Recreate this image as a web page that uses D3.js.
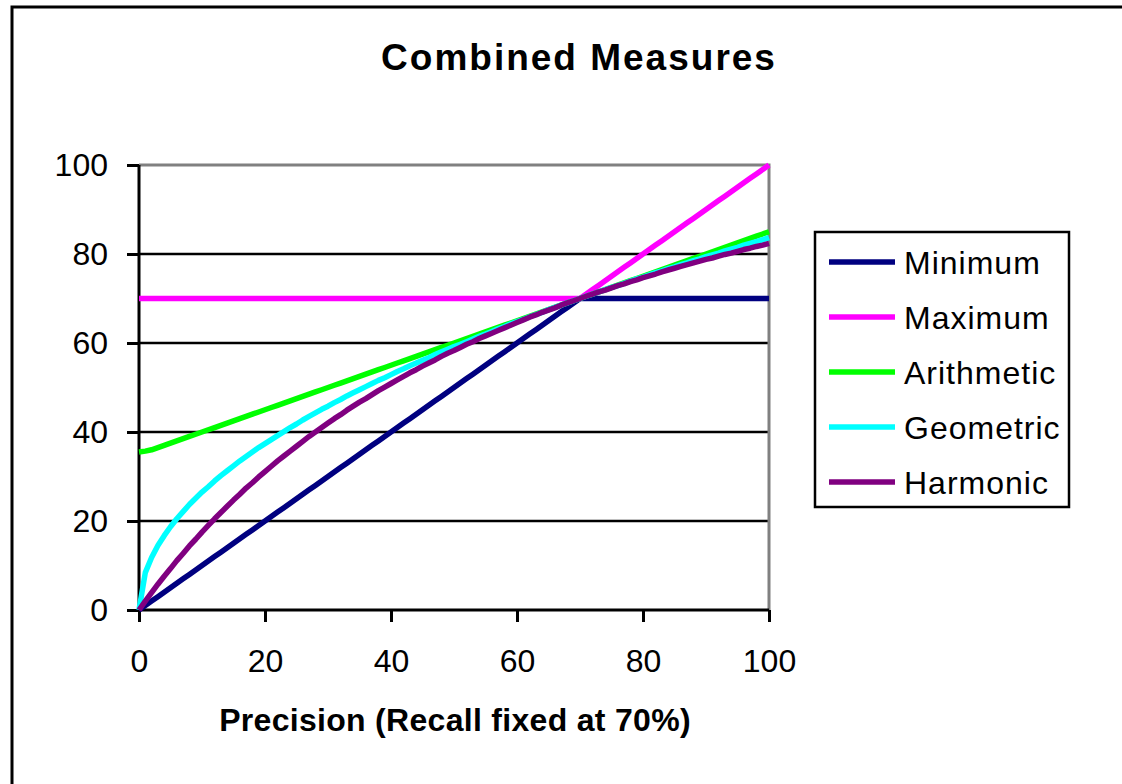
<!DOCTYPE html>
<html>
<head>
<meta charset="utf-8">
<script src="https://cdn.jsdelivr.net/npm/d3@7"></script>
<style>
  body { margin: 0; background: #fff; }
  svg text { font-family: "Liberation Sans", Arial, sans-serif; }
</style>
</head>
<body>
<svg id="chart" width="1122" height="784"></svg>
<script>
"use strict";

const precision = [0,1,2,3,4,5,6,7,8,9,10,11,12,13,14,15,16,17,18,19,20,21,22,23,24,25,26,27,28,29,30,31,32,33,34,35,36,37,38,39,40,41,42,43,44,45,46,47,48,49,50,51,52,53,54,55,56,57,58,59,60,61,62,63,64,65,66,67,68,69,70,71,72,73,74,75,76,77,78,79,80,81,82,83,84,85,86,87,88,89,90,91,92,93,94,95,96,97,98,99,100];

const minimum = [0,1,2,3,4,5,6,7,8,9,10,11,12,13,14,15,16,17,18,19,20,21,22,23,24,25,26,27,28,29,30,31,32,33,34,35,36,37,38,39,40,41,42,43,44,45,46,47,48,49,50,51,52,53,54,55,56,57,58,59,60,61,62,63,64,65,66,67,68,69,70,70,70,70,70,70,70,70,70,70,70,70,70,70,70,70,70,70,70,70,70,70,70,70,70,70,70,70,70,70,70];

const maximum = [70,70,70,70,70,70,70,70,70,70,70,70,70,70,70,70,70,70,70,70,70,70,70,70,70,70,70,70,70,70,70,70,70,70,70,70,70,70,70,70,70,70,70,70,70,70,70,70,70,70,70,70,70,70,70,70,70,70,70,70,70,70,70,70,70,70,70,70,70,70,70,71,72,73,74,75,76,77,78,79,80,81,82,83,84,85,86,87,88,89,90,91,92,93,94,95,96,97,98,99,100];

const arithmetic = [35.5,35.7,36,36.5,37,37.5,38,38.5,39,39.5,40,40.5,41,41.5,42,42.5,43,43.5,44,44.5,45,45.5,46,46.5,47,47.5,48,48.5,49,49.5,50,50.5,51,51.5,52,52.5,53,53.5,54,54.5,55,55.5,56,56.5,57,57.5,58,58.5,59,59.5,60,60.5,61,61.5,62,62.5,63,63.5,64,64.5,65,65.5,66,66.5,67,67.5,68,68.5,69,69.5,70,70.5,71,71.5,72,72.5,73,73.5,74,74.5,75,75.5,76,76.5,77,77.5,78,78.5,79,79.5,80,80.5,81,81.5,82,82.5,83,83.5,84,84.5,85];

const geometric = [0,8.4,11.8,14.5,16.7,18.7,20.5,22.1,23.7,25.1,26.5,27.7,29,30.2,31.3,32.4,33.5,34.5,35.5,36.5,37.4,38.3,39.2,40.1,41,41.8,42.7,43.5,44.3,45.1,45.8,46.6,47.3,48.1,48.8,49.5,50.2,50.9,51.6,52.2,52.9,53.6,54.2,54.9,55.5,56.1,56.7,57.4,58,58.6,59.2,59.7,60.3,60.9,61.5,62,62.6,63.2,63.7,64.3,64.8,65.3,65.9,66.4,66.9,67.5,68,68.5,69,69.5,70,70.5,71,71.5,72,72.5,72.9,73.4,73.9,74.4,74.8,75.3,75.8,76.2,76.7,77.1,77.6,78,78.5,78.9,79.4,79.8,80.2,80.7,81.1,81.5,82,82.4,82.8,83.2,83.7];

const harmonic = [0,2,3.9,5.8,7.6,9.3,11.1,12.7,14.4,15.9,17.5,19,20.5,21.9,23.3,24.7,26,27.4,28.6,29.9,31.1,32.3,33.5,34.6,35.7,36.8,37.9,39,40,41,42,43,43.9,44.9,45.8,46.7,47.5,48.4,49.3,50.1,50.9,51.7,52.5,53.3,54,54.8,55.5,56.2,57,57.7,58.3,59,59.7,60.3,61,61.6,62.2,62.8,63.4,64,64.6,65.2,65.8,66.3,66.9,67.4,67.9,68.5,69,69.5,70,70.5,71,71.5,71.9,72.4,72.9,73.3,73.8,74.2,74.7,75.1,75.5,76,76.4,76.8,77.2,77.6,78,78.4,78.8,79.1,79.5,79.9,80.2,80.6,81,81.3,81.7,82,82.4];

const seriesNames = ["Minimum", "Maximum", "Arithmetic", "Geometric", "Harmonic"];
const seriesValues = [minimum, maximum, arithmetic, geometric, harmonic];
const seriesColors = ["#000080", "#ff00ff", "#00ff00", "#00ffff", "#800080"];

const xTicks = [0, 20, 40, 60, 80, 100];
const yTicks = [0, 20, 40, 60, 80, 100];

const plotLeft = 139, plotRight = 769, plotTop = 165, plotBottom = 610;

function drawChart() {
    const svg = d3.select("svg#chart");

    // outer chart border (runs off the right and bottom of the picture)
    svg.append("rect")
        .attr("x", 12).attr("y", 7)
        .attr("width", 1300).attr("height", 1000)
        .attr("fill", "#fff")
        .attr("stroke", "#000")
        .attr("stroke-width", 3);

    const xScale = d3.scaleLinear().domain([0, 100]).range([plotLeft, plotRight]);
    const yScale = d3.scaleLinear().domain([0, 100]).range([plotBottom, plotTop]);

    // gridlines
    svg.append("g")
        .selectAll("line")
        .data(yTicks.filter(t => t > 0 && t < 100))
        .join("line")
        .attr("x1", plotLeft).attr("x2", plotRight)
        .attr("y1", d => yScale(d)).attr("y2", d => yScale(d))
        .attr("stroke", "#000").attr("stroke-width", 2.5);

    // grey frame top / right
    svg.append("path")
        .attr("d", `M${plotLeft},${yScale(100)}H${xScale(100)}V${yScale(0)}`)
        .attr("fill", "none")
        .attr("stroke", "#808080")
        .attr("stroke-width", 3);

    // axes
    const yAxis = d3.axisLeft(yScale).tickValues(yTicks).tickSize(12).tickPadding(19);
    const xAxis = d3.axisBottom(xScale).tickValues(xTicks).tickSize(12).tickPadding(27);

    const gy = svg.append("g")
        .attr("transform", `translate(${plotLeft},0)`)
        .call(yAxis);
    const gx = svg.append("g")
        .attr("transform", `translate(0,${plotBottom})`)
        .call(xAxis);

    [gx, gy].forEach(g => {
        g.select(".domain").attr("stroke", "#000").attr("stroke-width", 3);
        g.selectAll(".tick line").attr("stroke", "#000").attr("stroke-width", 3);
        g.selectAll(".tick text")
            .attr("fill", "#000")
            .style("font-size", "32px")
            .style("font-family", "'Liberation Sans', Arial, sans-serif");
    });
    gx.select(".domain").attr("d", `M${plotLeft},0H${plotRight}`);
    gy.select(".domain").attr("d", `M0,${plotBottom}V${plotTop}`);

    // series lines
    const line = d3.line()
        .x((d, i) => xScale(precision[i]))
        .y(d => yScale(d));

    svg.append("g")
        .selectAll("path")
        .data(seriesValues)
        .join("path")
        .attr("d", d => line(d))
        .attr("fill", "none")
        .attr("stroke", (d, i) => seriesColors[i])
        .attr("stroke-width", 5.5)
        .attr("stroke-linejoin", "round");

    // title
    svg.append("text")
        .attr("x", 579).attr("y", 70)
        .attr("text-anchor", "middle")
        .style("font-size", "37px")
        .style("font-weight", "bold")
        .style("letter-spacing", "2px")
        .text("Combined Measures");

    // x axis title
    svg.append("text")
        .attr("x", 455).attr("y", 731)
        .attr("text-anchor", "middle")
        .style("font-size", "32px")
        .style("font-weight", "bold")
        .style("letter-spacing", "0.3px")
        .text("Precision (Recall fixed at 70%)");

    // legend
    const legend = svg.append("g");
    legend.append("rect")
        .attr("x", 815).attr("y", 232)
        .attr("width", 254).attr("height", 275)
        .attr("fill", "#fff")
        .attr("stroke", "#000")
        .attr("stroke-width", 2.5);

    const rows = legend.selectAll("g.row")
        .data(seriesNames)
        .join("g")
        .attr("class", "row")
        .attr("transform", (d, i) => `translate(0,${262 + i * 55})`);

    rows.append("line")
        .attr("x1", 829).attr("x2", 895)
        .attr("y1", 0).attr("y2", 0)
        .attr("stroke", (d, i) => seriesColors[i])
        .attr("stroke-width", 5.5);

    rows.append("text")
        .attr("x", 904).attr("y", 11.5)
        .style("font-size", "32px")
        .style("letter-spacing", "1px")
        .text(d => d);
}

drawChart();
</script>
</body>
</html>
